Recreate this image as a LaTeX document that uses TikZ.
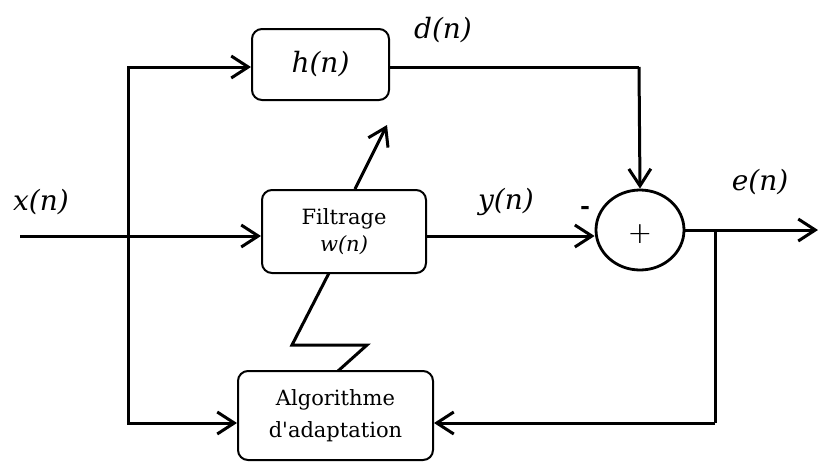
\documentclass[tikz,border=0pt]{standalone}
\usepackage{fontspec}
\setmainfont{DejaVu Serif}
\usetikzlibrary{arrows.meta,shapes.geometric}
\tikzset{
  blockbox/.style={draw, line width=2pt, rounded corners=10pt, inner sep=0pt, align=center,
    font=\fontsize{21}{30}\selectfont},
  sumnode/.style={draw, ellipse, line width=2.8pt, inner sep=0pt, minimum width=88pt, minimum height=80pt},
  signal/.style={font=\fontsize{28}{30}\selectfont\itshape, inner sep=0pt},
  wire/.style={line width=3pt},
  flow/.style={wire, -{Straight Barb[length=17pt,width=22pt]}},
}
\begin{document}
\begin{tikzpicture}[x=1pt,y=-1pt]
\useasboundingbox (0,0) rectangle (818,461);

% blocks
\node[blockbox, minimum width=137pt, minimum height=71pt] (h) at (320.5,64.5)
  {\fontsize{28}{30}\selectfont\itshape h(n)};
\node[blockbox, minimum width=164pt, minimum height=83pt] (filt) at (344,231.5)
  {Filtrage\\[-3pt]{\fontsize{21}{24}\selectfont\itshape w(n)}};
\node[blockbox, minimum width=195pt, minimum height=89pt] (alg) at (335.5,415.5)
  {\raisebox{2pt}{Algorithme}\\d\textquotesingle adaptation};
\node[sumnode] (sum) at (640,230) {};
\node[font=\fontsize{30}{30}\selectfont\fontspec{DejaVu Sans ExtraLight}] (plus) at (640,234) {+};

% routing points
\coordinate (in) at (20,236);
\coordinate (tap) at (128,236);
\coordinate (tapTop) at (128,67);
\coordinate (tapBot) at (128,423);
\coordinate (corner) at (639,67);
\coordinate (fork) at (715,230);
\coordinate (forkBot) at (715,423);
\coordinate (out) at (818,230);
\coordinate (adaptTip) at (387,125);
\coordinate (z1) at (292,345);
\coordinate (z2) at (367,345);

% signal paths
\draw[flow] (in) -- (in -| filt.west);
\draw[flow] (tap) -- (tapTop) -- (tapTop -| h.west);
\draw[flow] (tap) -- (tapBot) -- (tapBot -| alg.west);
\draw[wire] (h.east |- corner) -- (corner);
\draw[flow] (corner) -- (sum.north);
\draw[flow] (filt.east |- in) -- (sum.west |- in);
\draw[flow] (sum.east) -- (out);
\draw[wire] (fork) -- (forkBot);
\draw[flow] (forkBot) -- (forkBot -| alg.east);

% adaptation of the filter
\draw[flow] (355,189) -- (adaptTip);
\draw[wire, line join=miter] (329,273) -- (z1) -- (z2) -- (338,371);

% labels
\node[signal] (lx) at (41,202) {x(n)};
\node[signal] (ld) at (443,30) {d(n)};
\node[signal] (ly) at (506,202) {y(n)};
\node[signal] (le) at (760,182) {e(n)};
\node[font=\fontsize{24}{24}\selectfont\bfseries, inner sep=0pt] (minus) at (585,210) {-};
\end{tikzpicture}
\end{document}
